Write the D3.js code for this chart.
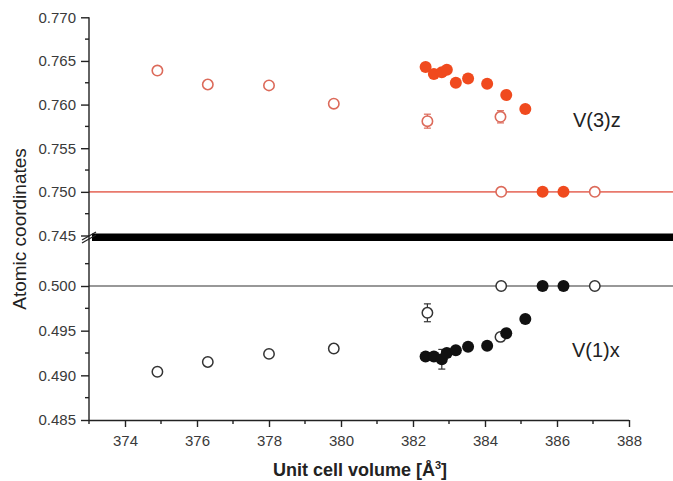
<!DOCTYPE html>
<html><head><meta charset="utf-8">
<script src="https://cdn.jsdelivr.net/npm/d3@7"></script>
<style>body{margin:0;background:#fff}svg{display:block}</style>
</head><body>
<svg id="c" width="673" height="481"></svg>
<script>
// ---- data ----
const filledVolume = [382.35, 382.58, 382.8, 382.94, 383.19, 383.53, 384.06, 384.59, 385.12, 385.6, 386.18];
const filledV3z    = [0.7643, 0.7635, 0.7637, 0.7640, 0.7625, 0.7630, 0.7624, 0.7611, 0.7595, 0.750, 0.750];
const filledV1x    = [0.4921, 0.4921, 0.4918, 0.4925, 0.4928, 0.4932, 0.4933, 0.4947, 0.4963, 0.500, 0.500];
const filledV1xErr = [0, 0, 0.0011, 0, 0, 0, 0, 0, 0, 0, 0];

const openVolume = [374.9, 376.3, 378.0, 379.8, 382.4, 384.43, 384.45, 387.05];
const openV3z    = [0.7639, 0.7623, 0.7622, 0.7601, 0.7581, 0.7586, 0.750, 0.750];
const openV3zErr = [0, 0, 0, 0, 0.0008, 0.0007, 0, 0];
const openV1x    = [0.4904, 0.4915, 0.4924, 0.4930, 0.4970, 0.4943, 0.500, 0.500];
const openV1xErr = [0, 0, 0, 0, 0.001, 0, 0, 0];

const xTicks = [374, 376, 378, 380, 382, 384, 386, 388];
const upperTicks = [0.745, 0.750, 0.755, 0.760, 0.765, 0.770];
const lowerTicks = [0.485, 0.490, 0.495, 0.500];
const refUpper = 0.750, refLower = 0.500;

// ---- layout ----
const W = 673, H = 481;
const left = 89, right = 629, bottom = 420;
const svg = d3.select("#c");
const font = "'Liberation Sans', Arial, Helvetica, sans-serif";

const x = d3.scaleLinear().domain([373, 388]).range([left, right]);
const yU = d3.scaleLinear().domain([0.745, 0.770]).range([235.5, 17.3]);
const yL = d3.scaleLinear().domain([0.485, 0.500]).range([bottom, 286]);

const red = "#f04a1e", redOpen = "#dc6a5a", black = "#111";

// reference lines
svg.append("line").attr("x1", left).attr("x2", W).attr("y1", yU(refUpper)).attr("y2", yU(refUpper))
  .attr("stroke", "#e8796c").attr("stroke-width", 1.6);
svg.append("line").attr("x1", left).attr("x2", W).attr("y1", yL(refLower)).attr("y2", yL(refLower))
  .attr("stroke", "#333").attr("stroke-width", 1.2);

// break band
svg.append("rect").attr("x", left + 3).attr("y", 233.5).attr("width", W - left - 3).attr("height", 7.5).attr("fill", "#000");

// axes
function styleAxis(g) {
  g.selectAll("path").attr("stroke", "#222").attr("stroke-width", 1.4);
  g.selectAll("line").attr("stroke", "#222").attr("stroke-width", 1.4);
  g.selectAll("text").attr("fill", "#3a3a3a").style("font-family", font).style("font-size", "15px");
}
const xAx = svg.append("g").attr("transform", `translate(0,${bottom})`)
  .call(d3.axisBottom(x).tickValues(xTicks).tickSize(7).tickPadding(8).tickSizeOuter(0).tickFormat(d3.format("d")));
styleAxis(xAx);
xAx.select("path").attr("d", `M${left},0.5H${right}`);
// minor x ticks
svg.append("g").selectAll("line").data(d3.range(373, 388, 2)).join("line")
  .attr("x1", d => x(d)).attr("x2", d => x(d)).attr("y1", bottom).attr("y2", bottom + 4)
  .attr("stroke", "#222").attr("stroke-width", 1.4);

// left axis line
svg.append("line").attr("x1", left).attr("x2", left).attr("y1", yU(0.770)).attr("y2", bottom)
  .attr("stroke", "#222").attr("stroke-width", 1.4);
const fmt3 = d3.format(".3f");
const yUAx = svg.append("g").attr("transform", `translate(${left},0)`)
  .call(d3.axisLeft(yU).tickValues(upperTicks).tickSize(8).tickPadding(5).tickFormat(fmt3));
yUAx.select("path").remove();
styleAxis(yUAx);
const yLAx = svg.append("g").attr("transform", `translate(${left},0)`)
  .call(d3.axisLeft(yL).tickValues(lowerTicks).tickSize(8).tickPadding(5).tickFormat(fmt3));
yLAx.select("path").remove();
styleAxis(yLAx);
// minor y ticks
const minorU = d3.range(0, 5).map(i => 0.7475 + i * 0.005);
const minorL = d3.range(0, 4).map(i => 0.4875 + i * 0.005);
svg.append("g").selectAll("line").data(minorU.map(yU).concat(minorL.map(yL))).join("line")
  .attr("x1", left - 4).attr("x2", left).attr("y1", d => d).attr("y2", d => d)
  .attr("stroke", "#222").attr("stroke-width", 1.4);

// break marks
svg.append("g").selectAll("line").data([0, 5]).join("line")
  .attr("x1", d => 82).attr("y1", d => 240 + d * 0.6).attr("x2", 96).attr("y2", d => 232 + d * 0.6)
  .attr("stroke", "#222").attr("stroke-width", 1.3);

// error bars
function errBars(vols, vals, errs, y, color) {
  const g = svg.append("g").attr("stroke", color).attr("stroke-width", 1.2);
  vols.forEach((v, i) => {
    if (!errs[i]) return;
    const cx = x(v), y1 = y(vals[i] - errs[i]), y2 = y(vals[i] + errs[i]);
    g.append("line").attr("x1", cx).attr("x2", cx).attr("y1", y1).attr("y2", y2);
    g.append("line").attr("x1", cx - 3.5).attr("x2", cx + 3.5).attr("y1", y1).attr("y2", y1);
    g.append("line").attr("x1", cx - 3.5).attr("x2", cx + 3.5).attr("y1", y2).attr("y2", y2);
  });
}
errBars(openVolume, openV3z, openV3zErr, yU, redOpen);
errBars(openVolume, openV1x, openV1xErr, yL, "#333");
errBars(filledVolume, filledV1x, filledV1xErr, yL, "#333");

// open circles
svg.append("g").selectAll("circle").data(openVolume).join("circle")
  .attr("cx", d => x(d)).attr("cy", (d, i) => yU(openV3z[i])).attr("r", 5.2)
  .attr("fill", "#fff").attr("stroke", redOpen).attr("stroke-width", 1.6);
svg.append("g").selectAll("circle").data(openVolume).join("circle")
  .attr("cx", d => x(d)).attr("cy", (d, i) => yL(openV1x[i])).attr("r", 5.2)
  .attr("fill", "#fff").attr("stroke", "#333").attr("stroke-width", 1.5);

// filled circles
svg.append("g").selectAll("circle").data(filledVolume).join("circle")
  .attr("cx", d => x(d)).attr("cy", (d, i) => yU(filledV3z[i])).attr("r", 6)
  .attr("fill", red);
svg.append("g").selectAll("circle").data(filledVolume).join("circle")
  .attr("cx", d => x(d)).attr("cy", (d, i) => yL(filledV1x[i])).attr("r", 6)
  .attr("fill", black);

// series labels
svg.append("text").attr("x", 573).attr("y", 127).text("V(3)z")
  .style("font-family", font).style("font-size", "20px").attr("fill", "#222");
svg.append("text").attr("x", 572).attr("y", 357).text("V(1)x")
  .style("font-family", font).style("font-size", "20px").attr("fill", "#222");

// axis titles
const xt = svg.append("text").attr("x", 360).attr("y", 476).attr("text-anchor", "middle")
  .style("font-family", font).style("font-size", "18px").style("font-weight", "bold").attr("fill", "#222");
xt.append("tspan").text("Unit cell volume [Å");
xt.append("tspan").text("3").attr("dy", -7).style("font-size", "11px");
xt.append("tspan").text("]").attr("dy", 7);
svg.append("text").attr("transform", "translate(26,229) rotate(-90)").attr("text-anchor", "middle")
  .style("font-family", font).style("font-size", "19px").attr("fill", "#222").text("Atomic coordinates");
</script>
</body></html>
